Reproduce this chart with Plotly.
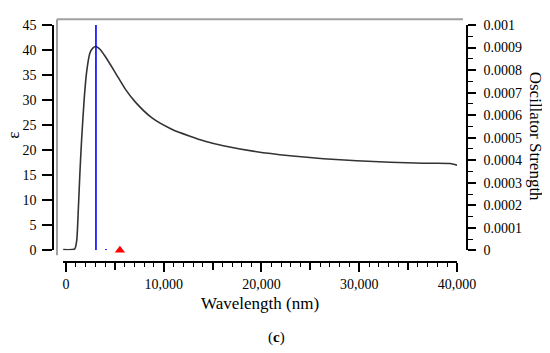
import plotly.graph_objects as go

# ---- data ----
wavelength_nm = [-280, 900, 1100, 1260, 1430, 1600, 1875, 2115, 2455, 2750, 3070, 3500, 3990,
                 5015, 6040, 7060, 8770, 10820, 12690, 14230, 16100, 19520, 22930, 26340,
                 29750, 33160, 36570, 39300, 40000]
epsilon = [0.15, 0.3, 1.9, 7.8, 15.5, 22.0, 30.4, 35.6, 39.4, 40.4, 40.7, 40.1, 38.8,
           35.6, 32.3, 29.7, 26.5, 24.2, 22.8, 21.8, 20.9, 19.7, 18.9, 18.3,
           17.9, 17.6, 17.4, 17.35, 17.0]

stick_wavelength = [3070, 4100]
stick_strength = [0.001, 0.000006]

marker_wavelength = [5520]
marker_epsilon = [0.0]

x_major_ticks = [0, 10000, 20000, 30000, 40000]
x_mid_ticks = [5000, 15000, 25000, 35000]
y_ticks = [0, 5, 10, 15, 20, 25, 30, 35, 40, 45]
y2_ticks = [0, 0.0001, 0.0002, 0.0003, 0.0004, 0.0005, 0.0006, 0.0007, 0.0008, 0.0009, 0.001]
y2_ticktext = ["0", "0.0001", "0.0002", "0.0003", "0.0004", "0.0005", "0.0006",
               "0.0007", "0.0008", "0.0009", "0.001"]

FONT = "Liberation Serif"

# stick coordinates built from the data
sx, sy = [], []
for w, f in zip(stick_wavelength, stick_strength):
    sx += [w, w, None]
    sy += [0, f, None]

fig = go.Figure()
fig.add_trace(go.Scatter(x=wavelength_nm, y=epsilon, mode="lines",
                         line=dict(color="#333333", width=1.6, shape="spline", smoothing=0.6),
                         xaxis="x", yaxis="y", showlegend=False))
fig.add_trace(go.Scatter(x=sx, y=sy, mode="lines", line=dict(color="#0000ff", width=1.6),
                         xaxis="x", yaxis="y2", showlegend=False))
fig.add_trace(go.Scatter(x=marker_wavelength, y=marker_epsilon, mode="markers",
                         marker=dict(symbol="triangle-up", color="#ff0000", size=9),
                         cliponaxis=False, xaxis="x", yaxis="y", showlegend=False))
fig.add_trace(go.Scatter(x=[None], y=[None], xaxis="x3", yaxis="y", showlegend=False))

xdom = [(63 - 53) / 414, (457 - 53) / 414]
xrange = [-300, 40000]

fig.update_layout(
    width=542, height=345,
    margin=dict(l=45, r=83, t=10, b=91),
    paper_bgcolor="white", plot_bgcolor="white",
    font=dict(family=FONT, size=14, color="black"),
    xaxis=dict(domain=xdom, range=xrange, anchor="free", position=0,
               showline=True, linecolor="black", linewidth=1.5,
               showgrid=False, zeroline=False,
               tickmode="array", tickvals=x_major_ticks, tickformat=",d",
               ticks="outside", ticklen=9, tickwidth=1.5, tickcolor="black",
               tickfont=dict(family=FONT, size=14, color="black"),
               minor=dict(dtick=1000, tick0=0, ticks="outside", ticklen=4,
                          tickwidth=1.2, tickcolor="black", showgrid=False)),
    xaxis3=dict(domain=xdom, range=xrange, overlaying="x", anchor="free", position=0,
                showline=False, showgrid=False, zeroline=False,
                tickmode="array", tickvals=x_mid_ticks, showticklabels=False,
                ticks="outside", ticklen=7, tickwidth=1.5, tickcolor="black"),
    yaxis=dict(domain=[12 / 244, 1], range=[0, 45], anchor="free", position=0,
               showline=True, linecolor="black", linewidth=1.5,
               showgrid=False, zeroline=False,
               tickmode="array", tickvals=y_ticks,
               ticks="outside", ticklen=10, tickwidth=1.5, tickcolor="black",
               ticklabelstandoff=3,
               tickfont=dict(family=FONT, size=14, color="black")),
    yaxis2=dict(range=[0, 0.001], overlaying="y", side="right", anchor="free", position=1,
                showline=True, linecolor="black", linewidth=1.5,
                showgrid=False, zeroline=False,
                tickmode="array", tickvals=y2_ticks, ticktext=y2_ticktext,
                ticks="outside", ticklen=8, tickwidth=1.5, tickcolor="black",
                ticklabelstandoff=5,
                tickfont=dict(family=FONT, size=14, color="black"),
                minor=dict(dtick=0.00005, tick0=0, ticks="outside", ticklen=5,
                           tickwidth=1.2, tickcolor="black", showgrid=False)),
    showlegend=False,
)

# gray frame (top and left)
fig.add_shape(type="line", xref="paper", yref="paper",
              x0=(57 - 53) / 414, x1=(463 - 53) / 414, y0=1 + 6 / 244, y1=1 + 6 / 244,
              line=dict(color="#a0a0a0", width=2))
fig.add_shape(type="line", xref="paper", yref="paper",
              x0=(57 - 53) / 414, x1=(57 - 53) / 414, y0=1 + 6 / 244, y1=(262 - 255) / 244,
              line=dict(color="#a0a0a0", width=2))

# titles
fig.add_annotation(text="Wavelength (nm)", xref="paper", yref="paper",
                   x=(260 - 53) / 414, y=(262 - 305) / 244, xanchor="center", yanchor="middle",
                   showarrow=False, font=dict(family=FONT, size=17, color="black"))
fig.add_annotation(text="ε", xref="paper", yref="paper",
                   x=(14 - 53) / 414, y=(262 - 132) / 244, xanchor="center", yanchor="middle",
                   textangle=-90, showarrow=False, font=dict(family=FONT, size=17, color="black"))
fig.add_annotation(text="Oscillator Strength", xref="paper", yref="paper",
                   x=(535 - 53) / 414, y=(262 - 132) / 244, xanchor="center", yanchor="middle",
                   textangle=90, showarrow=False, font=dict(family=FONT, size=17, color="black"))
fig.add_annotation(text="(<b>c</b>)", xref="paper", yref="paper",
                   x=(276 - 53) / 414, y=(262 - 340) / 244, xanchor="center", yanchor="middle",
                   showarrow=False, font=dict(family=FONT, size=15, color="black"))

fig.write_html("out.html")
